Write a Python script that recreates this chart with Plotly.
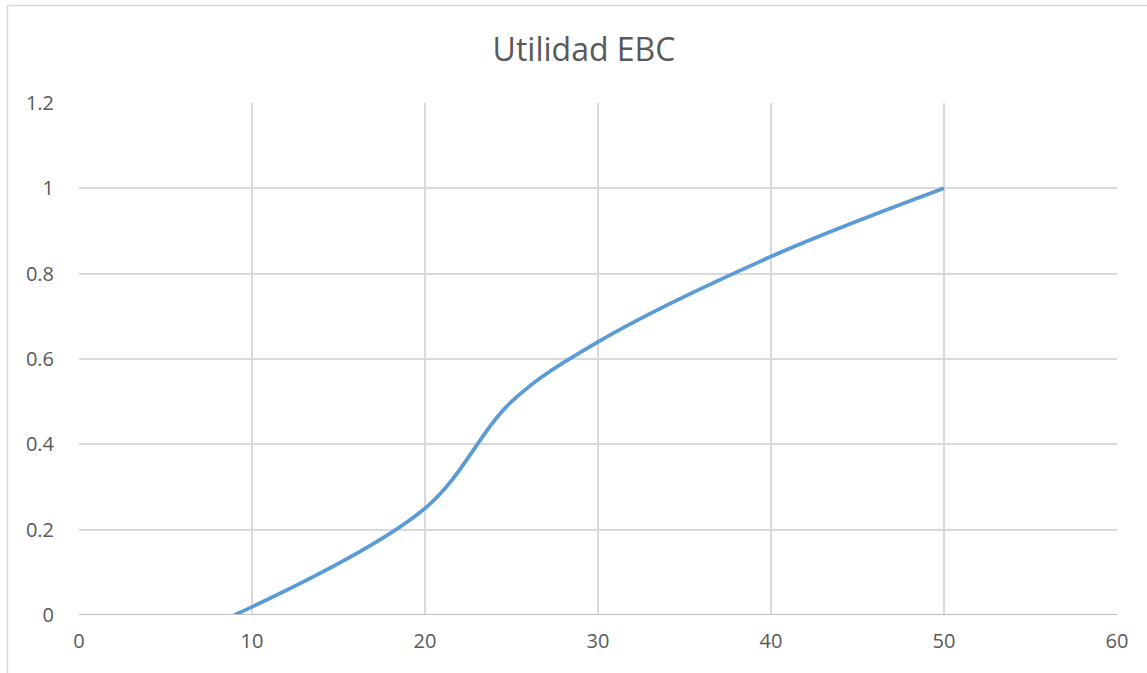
import plotly.graph_objects as go

# Utility curve points
x_vals = [9, 20, 25, 30, 40, 50]
utility = [0, 0.25, 0.5, 0.64, 0.84, 1]

x_ticks = [0, 10, 20, 30, 40, 50, 60]
y_ticks = [0, 0.2, 0.4, 0.6, 0.8, 1, 1.2]
y_tick_text = ["0", "0.2", "0.4", "0.6", "0.8", "1", "1.2"]

W, H = 1147, 673
L, R, T, B = 79, 30, 103, 58
pw, ph = W - L - R, H - T - B

font_family = "'Open Sans', 'Noto Sans', sans-serif"
text_color = "#595959"
grid_color = "#d9d9d9"

fig = go.Figure()
fig.add_trace(go.Scatter(
    x=x_vals, y=utility, mode="lines",
    line=dict(color="#5b9bd5", width=3.8, shape="spline", smoothing=1),
    hoverinfo="x+y", showlegend=False,
))

fig.update_layout(
    width=W, height=H,
    margin=dict(l=L, r=R, t=T, b=B, pad=0),
    paper_bgcolor="white", plot_bgcolor="white",
    title=dict(text="Utilidad EBC", x=584 / W, xanchor="center",
               y=1 - 50 / H, yanchor="middle",
               font=dict(family=font_family, size=32, color=text_color)),
    font=dict(family=font_family, size=20, color=text_color),
    xaxis=dict(range=[0, 60], tickvals=x_ticks, showgrid=True, gridcolor=grid_color,
               gridwidth=1.5, zeroline=False, showline=False, ticks="",
               tickfont=dict(size=20, color=text_color), ticklabelstandoff=12),
    yaxis=dict(range=[0, 1.2], tickvals=y_ticks, ticktext=y_tick_text, showgrid=True,
               gridcolor=grid_color, gridwidth=1.5, zeroline=False, showline=False,
               ticks="", tickfont=dict(size=20, color=text_color),
               ticklabelstandoff=24),
)

# x axis baseline
fig.add_shape(type="line", xref="paper", yref="y", x0=0, x1=1, y0=0, y1=0,
              line=dict(color="#bfbfbf", width=2), layer="above")

# outer chart frame (top and left edges)
top_y = (H - B - 5.5) / ph
left_x = (7.5 - L) / pw
fig.add_shape(type="line", xref="paper", yref="paper", x0=left_x, x1=(W - L + 5) / pw,
              y0=top_y, y1=top_y, line=dict(color="#d9d9d9", width=1.5))
fig.add_shape(type="line", xref="paper", yref="paper", x0=left_x, x1=left_x,
              y0=top_y, y1=-(B + 5) / ph, line=dict(color="#d9d9d9", width=1.5))

fig.write_html("out.html")
